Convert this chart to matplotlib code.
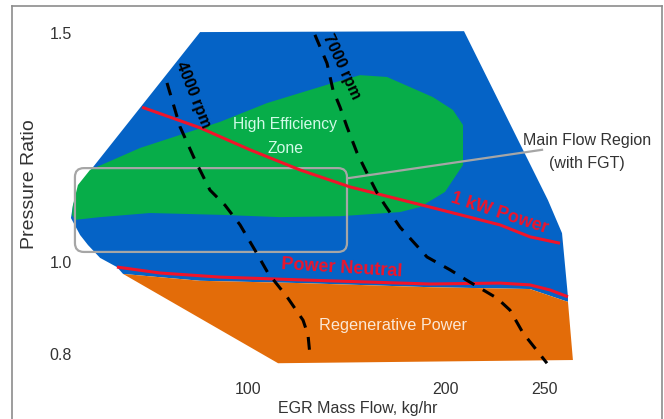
import matplotlib.pyplot as plt
from matplotlib.patches import Polygon, FancyBboxPatch
from matplotlib.lines import Line2D

plt.rcParams['font.family'] = ['Liberation Sans', 'DejaVu Sans']

# operating regions (EGR mass flow kg/hr, pressure ratio)
blue_x = [75.8, 209.1, 251.5, 258.6, 261.6, 261.6, 242.4, 191.9, 126.3, 75.8, 36.9,
          33.8, 25.3, 19.2, 15.2, 10.6, 11.6, 15.2, 21.7]
blue_y = [1.502, 1.504, 1.135, 1.063, 0.924, 0.913, 0.941, 0.945, 0.954, 0.959, 0.974,
          0.989, 1.009, 1.037, 1.059, 1.096, 1.124, 1.168, 1.207]

green_x = [20.2, 45.5, 85.9, 109.6, 142.9, 156.6, 170.2, 193.4, 203.5, 208.6, 208.6,
           199.5, 186.9, 176.8, 146.5, 116.2, 85.9, 50.5, 25.3, 12.6, 11.1, 11.6, 14.1]
green_y = [1.201, 1.249, 1.306, 1.347, 1.391, 1.408, 1.404, 1.360, 1.332, 1.299, 1.212,
           1.153, 1.120, 1.109, 1.100, 1.098, 1.103, 1.107, 1.098, 1.092, 1.103, 1.124, 1.168]

orange_x = [36.9, 75.8, 126.3, 191.9, 242.4, 261.6, 264.1, 115.2]
orange_y = [0.974, 0.959, 0.954, 0.945, 0.941, 0.913, 0.786, 0.779]

# power lines
kw1_x = [46.5, 75.8, 101.0, 126.3, 151.5, 191.9, 227.3, 242.4, 257.6]
kw1_y = [1.338, 1.293, 1.245, 1.201, 1.164, 1.120, 1.081, 1.055, 1.041]
neutral_x = [33.8, 55.6, 85.9, 126.3, 191.9, 227.3, 242.4, 252.5, 261.6]
neutral_y = [0.989, 0.976, 0.967, 0.961, 0.952, 0.954, 0.950, 0.939, 0.924]

# engine speed lines
rpm4000_x = [59.1, 65.7, 73.2, 80.8, 88.4, 96.0, 103.5, 110.1, 119.7, 127.8, 130.3, 131.3]
rpm4000_y = [1.391, 1.295, 1.223, 1.157, 1.124, 1.081, 1.026, 0.976, 0.924, 0.873, 0.841, 0.797]
rpm7000_x = [133.8, 139.9, 142.9, 146.5, 150.0, 155.1, 160.1, 165.2, 169.2, 176.8, 190.4,
             202.0, 212.1, 225.8, 232.3, 238.9, 251.0]
rpm7000_y = [1.496, 1.434, 1.376, 1.338, 1.295, 1.238, 1.194, 1.151, 1.124, 1.076, 1.011,
             0.983, 0.956, 0.921, 0.895, 0.845, 0.779]

x_ticks = [100, 200, 250]
y_ticks = [0.8, 1.0, 1.5]

BLUE = '#0563c6'
GREEN = '#07ad49'
ORANGE = '#e36c09'
RED = '#f0142a'
TXT = '#333333'

fig = plt.figure(figsize=(6.64, 4.19), dpi=100)
ax = fig.add_axes([75 / 664, 1 - 375 / 419, 525 / 664, 355 / 419])
ax.set_xlim(12.63, 277.78)
ax.set_ylim(0.7533, 1.5284)

ax.add_patch(Polygon(list(zip(blue_x, blue_y)), closed=True, fc=BLUE, ec='none', clip_on=False))
ax.add_patch(Polygon(list(zip(green_x, green_y)), closed=True, fc=GREEN, ec='none', clip_on=False))
ax.add_patch(Polygon(list(zip(orange_x, orange_y)), closed=True, fc=ORANGE, ec='none', clip_on=False))

ax.plot(kw1_x, kw1_y, color=RED, lw=2.2, solid_capstyle='butt')
ax.plot(neutral_x, neutral_y, color=RED, lw=2.2, solid_capstyle='butt')
ax.plot(rpm4000_x, rpm4000_y, color='black', lw=2.2, dashes=(4.2, 3.2))
ax.plot(rpm7000_x, rpm7000_y, color='black', lw=2.2, dashes=(4.2, 3.2))

# main flow region box (rounded), rounding kept round in pixel space
aspect = (0.7752 / 355) / (265.15 / 525)
ax.add_patch(FancyBboxPatch((12.6, 1.022), 150.0 - 12.6, 1.205 - 1.022,
                            boxstyle='round,pad=0,rounding_size=4.5',
                            mutation_aspect=aspect, fc='none', ec='#a6a6a6',
                            lw=1.6, clip_on=False))
ax.plot([150.5, 248.5], [1.183, 1.245], color='#a6a6a6', lw=1.6, clip_on=False)

ax.text(72.3, 1.365, '4000 rpm', rotation=-68, fontsize=11.5, fontweight='bold',
        ha='center', va='center', rotation_mode='anchor')
ax.text(147.5, 1.426, '7000 rpm', rotation=-65, fontsize=11.5, fontweight='bold',
        ha='center', va='center', rotation_mode='anchor')
ax.text(118.7, 1.301, 'High Efficiency', fontsize=11.3, color='#d2fbe8', ha='center', va='center')
ax.text(118.7, 1.247, 'Zone', fontsize=11.3, color='#d2fbe8', ha='center', va='center')
ax.text(271.2, 1.266, 'Main Flow Region', fontsize=11.5, color=TXT, ha='center', va='center')
ax.text(271.2, 1.216, '(with FGT)', fontsize=11.5, color=TXT, ha='center', va='center')
ax.text(147.5, 0.987, 'Power Neutral', rotation=-3.5, fontsize=13, fontweight='bold',
        color=RED, ha='center', va='center', rotation_mode='anchor')
ax.text(226.8, 1.106, '1 kW Power', rotation=-18, fontsize=13, fontweight='bold',
        color=RED, ha='center', va='center', rotation_mode='anchor')
ax.text(173.2, 0.862, 'Regenerative Power', fontsize=11.7, color='#fbe8d6',
        ha='center', va='center')

ax.set_xticks(x_ticks)
ax.set_xticklabels([str(v) for v in x_ticks])
ax.set_yticks(y_ticks)
ax.set_yticklabels([f'{v:.1f}' for v in y_ticks])
ax.tick_params(length=0, labelsize=11.5, labelcolor=TXT)
ax.tick_params(axis='x', pad=5)
ax.tick_params(axis='y', pad=2)
for s in ax.spines.values():
    s.set_visible(False)
ax.patch.set_visible(False)

fig.text(30 / 664, 1 - 184 / 419, 'Pressure Ratio', rotation=90, fontsize=14,
         color=TXT, ha='center', va='center')
fig.text(358 / 664, 1 - 408 / 419, 'EGR Mass Flow, kg/hr', fontsize=11.5,
         color=TXT, ha='center', va='center')

# outer frame
fx0, fx1, fy1 = 12 / 664, 662 / 664, 1 - 6 / 419
for xs, ys in [([fx0, fx0], [0, fy1]), ([fx0, fx1], [fy1, fy1]), ([fx1, fx1], [fy1, 0])]:
    fig.add_artist(Line2D(xs, ys, color='#8c8c8c', lw=1.2, transform=fig.transFigure))

fig.savefig('out.png', dpi=100)
